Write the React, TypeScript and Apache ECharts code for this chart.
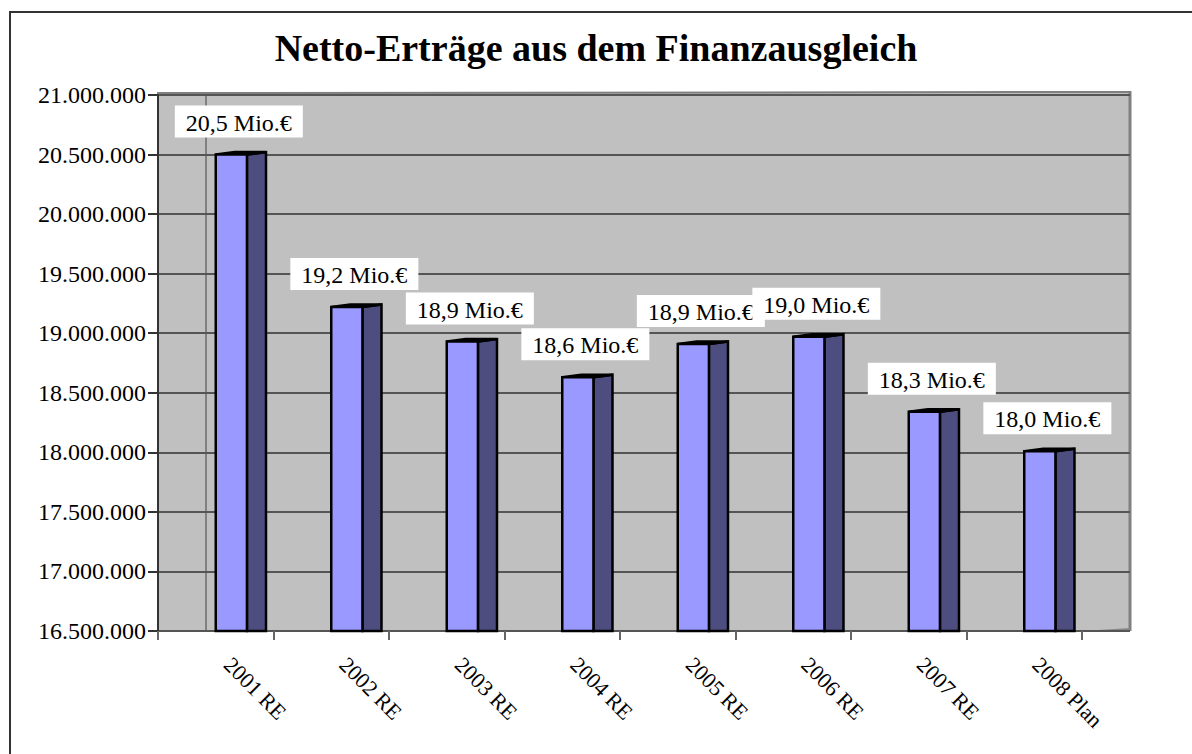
import React, { useEffect, useRef } from "react";
import * as echarts from "echarts";

const categories = ["2001 RE", "2002 RE", "2003 RE", "2004 RE", "2005 RE", "2006 RE", "2007 RE", "2008 Plan"];
const values = [20500000, 19220000, 18930000, 18630000, 18910000, 18970000, 18340000, 18010000];
const valueLabels = ["20,5 Mio.€", "19,2 Mio.€", "18,9 Mio.€", "18,6 Mio.€", "18,9 Mio.€", "19,0 Mio.€", "18,3 Mio.€", "18,0 Mio.€"];
const titleText = "Netto-Erträge aus dem Finanzausgleich";
const Y_MIN = 16500000;
const Y_MAX = 21000000;
const Y_STEP = 500000;

const SERIF = "'Liberation Serif', 'Times New Roman', serif";

function fmt(v: number): string {
  return String(Math.round(v)).replace(/\B(?=(\d{3})+(?!\d))/g, ".");
}

export default function App() {
  const ref = useRef<HTMLDivElement>(null);
  useEffect(() => {
    if (!ref.current) return;
    const chart = echarts.init(ref.current, null, { renderer: "svg" });
    const option: any = {
      animation: false,
      backgroundColor: "#ffffff",
      title: {
        text: titleText,
        left: "center",
        top: 24,
        textStyle: { fontFamily: SERIF, fontWeight: "bold", fontSize: 38, color: "#000" },
      },
      graphic: [
        { type: "rect", z: -10, silent: true, shape: { x: 10, y: 12, width: 1200, height: 760 }, style: { fill: "none", stroke: "#333", lineWidth: 2 } },
        { type: "rect", z: -10, silent: true, shape: { x: 157, y: 92, width: 973, height: 539 }, style: { fill: "#C0C0C0" } },
        { type: "line", silent: true, shape: { x1: 157, y1: 93, x2: 1130, y2: 92 }, style: { stroke: "#808080", lineWidth: 2 } },
        { type: "line", silent: true, shape: { x1: 206, y1: 92, x2: 206, y2: 631 }, style: { stroke: "#808080", lineWidth: 2 } },
        { type: "line", silent: true, shape: { x1: 1130, y1: 91, x2: 1130, y2: 631 }, style: { stroke: "#808080", lineWidth: 3 } },
        { type: "line", silent: true, shape: { x1: 148, y1: 631, x2: 1098, y2: 631 }, style: { stroke: "#222", lineWidth: 2 } },
        { type: "line", silent: true, shape: { x1: 1098, y1: 631, x2: 1130, y2: 629 }, style: { stroke: "#888", lineWidth: 2 } },
      ],
      grid: [
        { left: 158, right: 110, top: 95, bottom: 123, containLabel: false },
        { left: 157, right: 62, top: 95, bottom: 123, containLabel: false },
      ],
      xAxis: [
        {
          type: "category",
          gridIndex: 0,
          data: categories,
          boundaryGap: true,
          axisLine: { show: false },
          axisTick: { show: true, alignWithLabel: false, length: 9, lineStyle: { color: "#666", width: 2 } },
          axisLabel: {
            interval: 0,
            rotate: -45,
            margin: 18,
            padding: [0, 0, 0, 17],
            fontFamily: SERIF,
            fontSize: 22,
            color: "#000",
          },
        },
        { type: "value", gridIndex: 1, show: false, min: 0, max: 1 },
      ],
      yAxis: [
        {
          type: "value",
          gridIndex: 0,
          min: Y_MIN,
          max: Y_MAX,
          interval: Y_STEP,
          axisLine: { show: true, lineStyle: { color: "#333", width: 2 } },
          axisTick: { show: true, length: 10, lineStyle: { color: "#333", width: 2 } },
          splitLine: { show: false },
          axisLabel: {
            margin: 12,
            fontFamily: SERIF,
            fontSize: 24,
            color: "#000",
            formatter: (v: number) => fmt(v),
          },
        },
        {
          type: "value",
          gridIndex: 1,
          min: Y_MIN,
          max: Y_MAX,
          interval: Y_STEP,
          axisLine: { show: false },
          axisTick: { show: false },
          axisLabel: { show: false },
          splitLine: { show: true, lineStyle: { color: "#555", width: 2 } },
        },
      ],
      series: [
        {
          type: "custom",
          xAxisIndex: 0,
          yAxisIndex: 0,
          z: 5,
          clip: false,
          data: values.map((v, i) => [i, v]),
          encode: { x: 0, y: 1 },
          renderItem: (params: any, api: any) => {
            const i = api.value(0);
            const v = api.value(1);
            const top = api.coord([i, v]);
            const bot = api.coord([i, Y_MIN]);
            const band = api.size([1, 0])[0];
            const x0 = top[0];
            const fw = band * 0.27;
            const sw = band * 0.165;
            const dy = 2.5;
            const yT = top[1];
            const yB = bot[1];
            return {
              type: "group",
              children: [
                {
                  type: "polygon",
                  shape: { points: [[x0 + fw, yT], [x0 + fw + sw, yT - dy], [x0 + fw + sw, yB], [x0 + fw, yB]] },
                  style: { fill: "#4D4D80", stroke: "#000", lineWidth: 2.5 },
                },
                {
                  type: "polygon",
                  shape: { points: [[x0, yT], [x0 + fw, yT], [x0 + fw + sw, yT - dy], [x0 + sw, yT - dy]] },
                  style: { fill: "#111", stroke: "#000", lineWidth: 2.5 },
                },
                {
                  type: "rect",
                  shape: { x: x0, y: yT, width: fw, height: yB - yT },
                  style: { fill: "#9999FF", stroke: "#000", lineWidth: 2.5 },
                },
                {
                  type: "text",
                  style: {
                    text: valueLabels[i],
                    x: x0 + band * 0.2,
                    y: yT - 17,
                    align: "center",
                    verticalAlign: "bottom",
                    fontFamily: SERIF,
                    fontSize: 24,
                    fill: "#000",
                    backgroundColor: "#fff",
                    padding: [5, 11, 3, 11],
                  },
                },
              ],
            };
          },
        },
      ],
    };
    chart.setOption(option);
    return () => chart.dispose();
  }, []);
  return <div ref={ref} style={{ position: "fixed", left: 0, top: 0, width: 1192, height: 754 }} />;
}
